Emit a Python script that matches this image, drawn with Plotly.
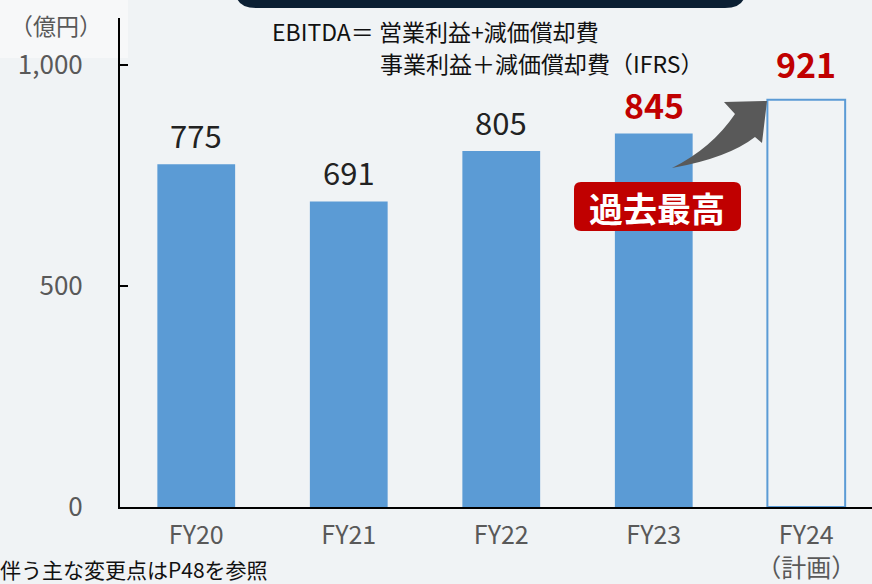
import plotly.graph_objects as go

categories = ["FY20", "FY21", "FY22", "FY23", "FY24"]
tick_labels = ["FY20", "FY21", "FY22", "FY23", "FY24<br>（計画）"]
actual_values = [775, 691, 805, 845]
plan_values = [921]
y_ticks = [0, 500, 1000]
y_tick_text = ["0", "500", "1,000"]

W, H = 872, 584
L, R, T, B = 120, 0, 18, 77
PW, PH = W - L - R, H - T - B
Y_MAX = 1106
FONT = "Noto Sans CJK JP, Noto Sans, sans-serif"
BLUE = "#5B9BD5"
RED = "#C00000"
BG = "#F0F3F5"


def px(x):
    return (x - L) / PW


def py(y):
    return (H - B - y) / PH


def path(cmds):
    out = []
    for c in cmds:
        if isinstance(c, str):
            out.append(c)
        else:
            out.append(f"{px(c[0]):.5f},{py(c[1]):.5f}")
    return " ".join(out)


def rounded_rect(x0, y0, x1, y1, r):
    return path([
        "M", (x0 + r, y0), "L", (x1 - r, y0), "Q", (x1, y0), (x1, y0 + r),
        "L", (x1, y1 - r), "Q", (x1, y1), (x1 - r, y1),
        "L", (x0 + r, y1), "Q", (x0, y1), (x0, y1 - r),
        "L", (x0, y0 + r), "Q", (x0, y0), (x0 + r, y0), "Z"])


fig = go.Figure()
fig.add_bar(x=categories[:4], y=actual_values, width=0.51,
            marker=dict(color=BLUE, line=dict(width=0)), hoverinfo="skip")
fig.add_bar(x=categories[4:], y=plan_values, width=0.51,
            marker=dict(color="rgba(0,0,0,0)", line=dict(color=BLUE, width=2)),
            hoverinfo="skip")

# data labels
for c, v in zip(categories[:3], actual_values[:3]):
    fig.add_annotation(x=c, y=v, text=str(v), showarrow=False, yanchor="bottom",
                       yshift=5, font=dict(family=FONT, size=31, color="#222222"))
fig.add_annotation(x=categories[3], y=actual_values[3], text=f"<b>{actual_values[3]}</b>",
                   showarrow=False, yanchor="bottom", yshift=2,
                   font=dict(family=FONT, size=34, color=RED))
fig.add_annotation(x=categories[4], y=plan_values[0], text=f"<b>{plan_values[0]}</b>",
                   showarrow=False, yanchor="bottom", yshift=10,
                   font=dict(family=FONT, size=34, color=RED))

shapes = []
# top dark box
shapes.append(dict(type="path", xref="paper", yref="paper",
                   path=path(["M", (236, -20), "L", (236, -8), "Q", (236, 8), (256, 8),
                              "L", (725, 8), "Q", (745, 8), (745, -8), "L", (745, -20), "Z"]),
                   fillcolor="#0B1F33", line=dict(width=0), layer="above"))
# unit label background
shapes.append(dict(type="rect", xref="paper", yref="paper",
                   x0=px(0), x1=px(128), y0=py(58), y1=py(0),
                   fillcolor="rgba(255,255,255,0.45)", line=dict(width=0), layer="below"))
# record box
shapes.append(dict(type="path", xref="paper", yref="paper",
                   path=rounded_rect(574, 182, 741, 231, 7),
                   fillcolor=RED, line=dict(width=0), layer="above"))
# curved arrow
shapes.append(dict(type="path", xref="paper", yref="paper",
                   path=path(["M", (672, 168), "Q", (712, 148), (735, 114),
                              "L", (724, 102), "L", (767, 101), "L", (762, 143),
                              "L", (755, 137), "Q", (728, 158), (672, 168), "Z"]),
                   fillcolor="#595959", line=dict(width=0), layer="above"))

fig.update_layout(shapes=shapes)

fig.add_annotation(xref="paper", yref="paper", x=px(657), y=py(207), xanchor="center",
                   yanchor="middle", text="<b>過去最高</b>", showarrow=False,
                   font=dict(family=FONT, size=34, color="white"))
fig.add_annotation(xref="paper", yref="paper", x=px(8), y=py(25), xanchor="left",
                   yanchor="middle", text="（億円）", showarrow=False,
                   font=dict(family=FONT, size=23, color="#595959"))
fig.add_annotation(xref="paper", yref="paper", x=px(270), y=py(31), xanchor="left",
                   yanchor="middle", text="EBITDA＝ 営業利益+減価償却費", showarrow=False,
                   font=dict(family=FONT, size=23, color="#111111"))
fig.add_annotation(xref="paper", yref="paper", x=px(378), y=py(63), xanchor="left",
                   yanchor="middle", text="事業利益＋減価償却費（IFRS）", showarrow=False,
                   font=dict(family=FONT, size=23, color="#111111"))
fig.add_annotation(xref="paper", yref="paper", x=px(-2), y=py(569), xanchor="left",
                   yanchor="middle", text="伴う主な変更点はP48を参照", showarrow=False,
                   font=dict(family=FONT, size=21, color="#111111"))

fig.update_layout(
    width=W, height=H,
    margin=dict(l=L, r=R, t=T, b=B, pad=0, autoexpand=False),
    paper_bgcolor=BG, plot_bgcolor=BG,
    showlegend=False, barmode="overlay",
    font=dict(family=FONT),
)
fig.update_xaxes(
    type="category", categoryorder="array", categoryarray=categories,
    range=[-0.5, 4.431], tickmode="array", tickvals=categories, ticktext=tick_labels,
    showline=True, linecolor="#000000", linewidth=2, ticks="",
    ticklabelstandoff=5, automargin=False,
    tickfont=dict(family=FONT, size=25, color="#595959"), showgrid=False,
    fixedrange=True,
)
fig.update_yaxes(
    range=[0, Y_MAX], tickmode="array", tickvals=y_ticks, ticktext=y_tick_text,
    showline=True, linecolor="#000000", linewidth=2, ticks="inside", ticklen=8,
    tickcolor="#000000", tickwidth=2, ticklabelstandoff=30, automargin=False,
    tickfont=dict(family=FONT, size=26, color="#595959"), showgrid=False,
    zeroline=False, fixedrange=True,
)

fig.write_html(
    "out.html",
    config={"displayModeBar": False},
    post_script="document.body.style.margin='0';document.body.style.background='#F0F3F5';",
)
